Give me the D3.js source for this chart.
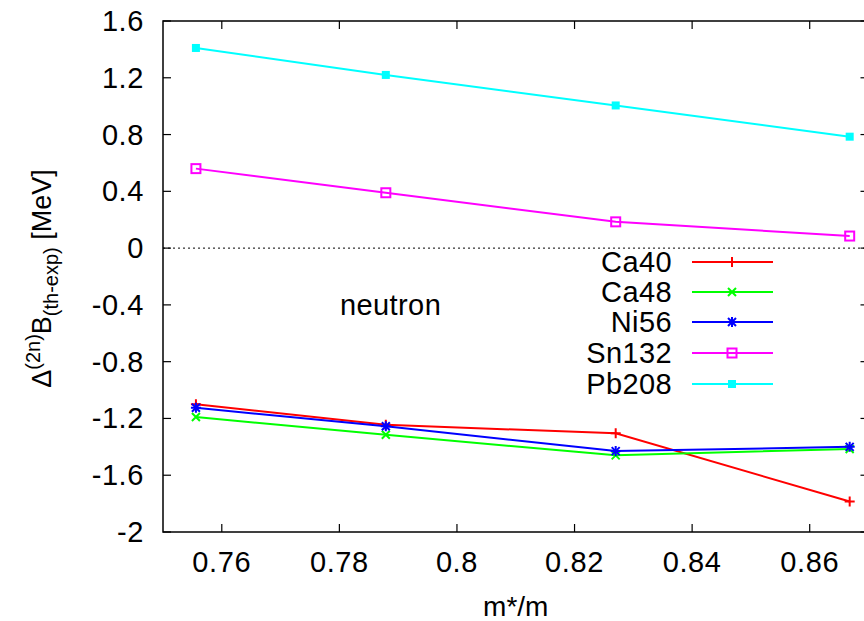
<!DOCTYPE html>
<html>
<head>
<meta charset="utf-8">
<script src="https://cdn.jsdelivr.net/npm/d3@7"></script>
<style>
  html, body { margin: 0; padding: 0; background: #fff; }
  svg { display: block; font-family: "Liberation Sans", Arial, sans-serif; }
</style>
</head>
<body>
<div id="chart"></div>
<script>
const mRatio = [0.7556, 0.7879, 0.827, 0.8668];

const ca40 = [-1.10, -1.245, -1.305, -1.785];
const ca48 = [-1.19, -1.315, -1.46, -1.415];
const ni56 = [-1.125, -1.255, -1.43, -1.40];
const sn132 = [0.56, 0.39, 0.185, 0.085];
const pb208 = [1.41, 1.22, 1.005, 0.785];

const seriesNames = ["Ca40", "Ca48", "Ni56", "Sn132", "Pb208"];
const seriesColors = ["#ff0000", "#00ff00", "#0000ff", "#ff00ff", "#00ffff"];
const seriesMarkers = ["plus", "cross", "star", "box", "filledBox"];
const seriesValues = [ca40, ca48, ni56, sn132, pb208];

const xTicks = [0.76, 0.78, 0.8, 0.82, 0.84, 0.86];
const yTicks = [-2, -1.6, -1.2, -0.8, -0.4, 0, 0.4, 0.8, 1.2, 1.6];

const width = 864;
const height = 621;
const plot = { left: 163, right: 868.5, top: 21, bottom: 532 };
const fontSize = 29;

const x = d3.scaleLinear().domain([0.75, 0.87]).range([plot.left, plot.right]);
const y = d3.scaleLinear().domain([-2, 1.6]).range([plot.bottom, plot.top]);

const svg = d3.select("#chart")
  .append("svg")
  .attr("width", width)
  .attr("height", height);

// zero line (dotted)
svg.append("line")
  .attr("x1", plot.left).attr("x2", plot.right)
  .attr("y1", y(0)).attr("y2", y(0))
  .attr("stroke", "#000")
  .attr("stroke-width", 1)
  .attr("stroke-dasharray", "2,3");

// ticks, inward on all four sides
const tickLen = 8;
const axisG = svg.append("g").attr("stroke", "#000").attr("stroke-width", 1.2);

xTicks.forEach(t => {
  axisG.append("line").attr("x1", x(t)).attr("x2", x(t))
    .attr("y1", plot.bottom).attr("y2", plot.bottom - tickLen);
  axisG.append("line").attr("x1", x(t)).attr("x2", x(t))
    .attr("y1", plot.top).attr("y2", plot.top + tickLen);
});

yTicks.forEach(t => {
  axisG.append("line").attr("x1", plot.left).attr("x2", plot.left + tickLen)
    .attr("y1", y(t)).attr("y2", y(t));
  axisG.append("line").attr("x1", plot.right).attr("x2", plot.right - tickLen)
    .attr("y1", y(t)).attr("y2", y(t));
});

// border
svg.append("rect")
  .attr("x", plot.left).attr("y", plot.top)
  .attr("width", plot.right - plot.left)
  .attr("height", plot.bottom - plot.top)
  .attr("fill", "none")
  .attr("stroke", "#000")
  .attr("stroke-width", 1.5);

// tick labels
svg.append("g").selectAll("text")
  .data(xTicks)
  .join("text")
  .attr("x", d => x(d))
  .attr("y", 572)
  .attr("text-anchor", "middle")
  .attr("font-size", fontSize)
  .attr("letter-spacing", 0.6)
  .text(d => String(d));

svg.append("g").selectAll("text")
  .data(yTicks)
  .join("text")
  .attr("x", 144)
  .attr("y", d => y(d) + 10)
  .attr("text-anchor", "end")
  .attr("font-size", fontSize)
  .attr("letter-spacing", 0.6)
  .text(d => String(d));

// axis labels
svg.append("text")
  .attr("x", (plot.left + plot.right) / 2)
  .attr("y", 616)
  .attr("text-anchor", "middle")
  .attr("font-size", 28)
  .text("m*/m");

const yLabel = svg.append("text")
  .attr("transform", `translate(51, ${(plot.top + plot.bottom) / 2 + 2}) rotate(-90)`)
  .attr("text-anchor", "middle")
  .attr("font-size", 27);
yLabel.append("tspan").text("\u0394");
yLabel.append("tspan").attr("font-size", 20).attr("dy", -11).text("(2n)");
yLabel.append("tspan").attr("dy", 11).text("B");
yLabel.append("tspan").attr("font-size", 20).attr("dy", 7).text("(th-exp)");
yLabel.append("tspan").attr("dy", -7).text(" [MeV]");

svg.append("text")
  .attr("x", 340)
  .attr("y", 315)
  .attr("font-size", fontSize)
  .attr("letter-spacing", 0.4)
  .text("neutron");

// markers
function drawMarker(g, type, cx, cy, color) {
  const s = 5;
  if (type === "plus" || type === "star") {
    g.append("path").attr("d", `M${cx - s},${cy}H${cx + s}M${cx},${cy - s}V${cy + s}`)
      .attr("stroke", color).attr("stroke-width", 2).attr("fill", "none");
  }
  if (type === "cross" || type === "star") {
    const c = 4;
    g.append("path").attr("d", `M${cx - c},${cy - c}L${cx + c},${cy + c}M${cx - c},${cy + c}L${cx + c},${cy - c}`)
      .attr("stroke", color).attr("stroke-width", 2).attr("fill", "none");
  }
  if (type === "box") {
    g.append("rect").attr("x", cx - 4.5).attr("y", cy - 4.5).attr("width", 9).attr("height", 9)
      .attr("stroke", color).attr("stroke-width", 2).attr("fill", "none");
  }
  if (type === "filledBox") {
    g.append("rect").attr("x", cx - 4).attr("y", cy - 4).attr("width", 8).attr("height", 8)
      .attr("fill", color);
  }
}

const line = d3.line().x(d => x(d[0])).y(d => y(d[1]));

seriesValues.forEach((vals, i) => {
  const pts = mRatio.map((m, j) => [m, vals[j]]);
  const g = svg.append("g");
  g.append("path")
    .datum(pts)
    .attr("d", line)
    .attr("fill", "none")
    .attr("stroke", seriesColors[i])
    .attr("stroke-width", 2);
  pts.forEach(p => drawMarker(g, seriesMarkers[i], x(p[0]), y(p[1]), seriesColors[i]));
});

// legend
const legendRowY = [262, 292, 322, 353, 384];
seriesNames.forEach((name, i) => {
  const ly = legendRowY[i];
  const g = svg.append("g");
  g.append("text")
    .attr("x", 672)
    .attr("y", ly + 10)
    .attr("text-anchor", "end")
    .attr("font-size", fontSize)
    .attr("letter-spacing", 0.4)
    .text(name);
  g.append("line")
    .attr("x1", 692).attr("x2", 773)
    .attr("y1", ly).attr("y2", ly)
    .attr("stroke", seriesColors[i])
    .attr("stroke-width", 2);
  drawMarker(g, seriesMarkers[i], 732, ly, seriesColors[i]);
});
</script>
</body>
</html>
